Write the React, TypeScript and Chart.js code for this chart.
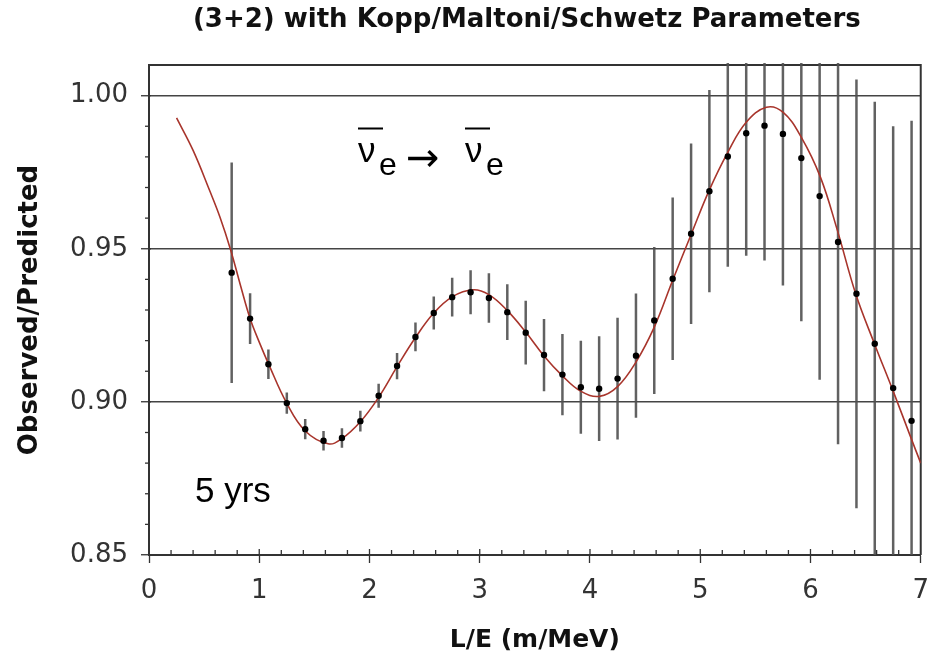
import React, { useEffect, useRef } from 'react';
import { Chart, registerables } from 'chart.js';

Chart.register(...registerables);

// ---- data ----
const pointX = [0.75, 0.917, 1.083, 1.25, 1.417, 1.583, 1.75, 1.917, 2.083, 2.25, 2.417, 2.583, 2.75, 2.917, 3.083, 3.25, 3.417, 3.583, 3.75, 3.917, 4.083, 4.25, 4.417, 4.583, 4.75, 4.917, 5.083, 5.25, 5.417, 5.583, 5.75, 5.917, 6.083, 6.25, 6.417, 6.583, 6.75, 6.917];
const pointY = [0.9422, 0.9272, 0.9123, 0.8996, 0.8911, 0.8873, 0.8882, 0.8937, 0.902, 0.9117, 0.9212, 0.929, 0.9342, 0.9358, 0.9339, 0.9293, 0.9226, 0.9153, 0.9089, 0.9048, 0.9043, 0.9076, 0.9151, 0.9266, 0.9402, 0.9549, 0.9688, 0.9801, 0.9877, 0.9902, 0.9875, 0.9796, 0.9672, 0.9522, 0.9353, 0.919, 0.9045, 0.8938];
const pointErr = [0.036, 0.0083, 0.0048, 0.0035, 0.0033, 0.0032, 0.0032, 0.0034, 0.0039, 0.0043, 0.0047, 0.0054, 0.0063, 0.0072, 0.0081, 0.0091, 0.0104, 0.0118, 0.0133, 0.0152, 0.0171, 0.0199, 0.0203, 0.024, 0.0265, 0.0295, 0.033, 0.036, 0.04, 0.044, 0.0495, 0.0533, 0.06, 0.066, 0.07, 0.079, 0.0855, 0.098];

const curveX = [0.25, 0.4, 0.55, 0.644, 0.74, 0.83, 0.917, 1.0, 1.083, 1.25, 1.417, 1.625, 1.75, 1.917, 2.083, 2.25, 2.417, 2.583, 2.75, 2.94, 3.083, 3.25, 3.417, 3.583, 3.75, 3.915, 4.085, 4.25, 4.417, 4.583, 4.75, 4.92, 5.08, 5.25, 5.417, 5.6, 5.75, 5.917, 6.09, 6.244, 6.41, 6.58, 6.75, 6.914, 7.0];
const curveY = [0.9927, 0.9821, 0.969, 0.9603, 0.9497, 0.938, 0.9272, 0.9195, 0.9125, 0.8995, 0.8905, 0.8863, 0.888, 0.8935, 0.9015, 0.9115, 0.921, 0.929, 0.9343, 0.9366, 0.935, 0.9298, 0.9228, 0.915, 0.9085, 0.9035, 0.9018, 0.905, 0.913, 0.9244, 0.9397, 0.9549, 0.969, 0.9815, 0.9913, 0.9962, 0.9946, 0.9864, 0.9734, 0.956, 0.9353, 0.919, 0.9035, 0.888, 0.88];

const xTickValues = [0, 1, 2, 3, 4, 5, 6, 7];
const yTickValues = [0.85, 0.9, 0.95, 1.0];
const titleText = '(3+2) with Kopp/Maltoni/Schwetz Parameters';
const xTitle = 'L/E (m/MeV)';
const yTitle = 'Observed/Predicted';
const yearsLabel = '5 yrs';
const nuLabel = 'ν';
const flavourLabel = 'e';
const arrowLabel = '→';

const AXIS = '#333';

const decorPlugin = {
  id: 'decor',
  beforeDatasetsDraw(chart: any) {
    const { ctx, chartArea: a, scales } = chart;
    const x = scales.x;
    const y = scales.y;
    ctx.save();
    // frame (top / right)
    ctx.strokeStyle = AXIS;
    ctx.lineWidth = 2;
    ctx.beginPath();
    ctx.moveTo(a.left, a.top);
    ctx.lineTo(a.right, a.top);
    ctx.lineTo(a.right, a.bottom);
    ctx.stroke();
    // minor ticks on y (outward)
    ctx.lineWidth = 1.3;
    for (let i = 86; i <= 100; i++) {
      if (i % 5 === 0) continue;
      const py = y.getPixelForValue(i / 100);
      ctx.beginPath();
      ctx.moveTo(a.left - 4, py);
      ctx.lineTo(a.left, py);
      ctx.stroke();
    }
    // x ticks inward (minor every 0.2, major inward part)
    for (let i = 1; i < 35; i++) {
      const px = x.getPixelForValue(i / 5);
      const len = i % 5 === 0 ? 6 : 5;
      ctx.beginPath();
      ctx.moveTo(px, a.bottom);
      ctx.lineTo(px, a.bottom - len);
      ctx.stroke();
    }
    // y major inward part
    yTickValues.forEach((v) => {
      const py = y.getPixelForValue(v);
      ctx.beginPath();
      ctx.moveTo(a.left, py);
      ctx.lineTo(a.left + 2, py);
      ctx.stroke();
    });
    // error bars
    ctx.beginPath();
    ctx.rect(a.left, a.top - 2, a.right - a.left, a.bottom - a.top + 2);
    ctx.clip();
    ctx.strokeStyle = 'rgba(80,80,80,0.9)';
    ctx.lineWidth = 2.5;
    pointX.forEach((vx, i) => {
      const px = x.getPixelForValue(vx);
      ctx.beginPath();
      ctx.moveTo(px, y.getPixelForValue(pointY[i] - pointErr[i]));
      ctx.lineTo(px, y.getPixelForValue(pointY[i] + pointErr[i]));
      ctx.stroke();
    });
    ctx.restore();
  },
  afterDraw(chart: any) {
    const { ctx, chartArea: a } = chart;
    ctx.save();
    // title
    ctx.fillStyle = '#111';
    ctx.font = 'bold 26px "DejaVu Sans"';
    ctx.textAlign = 'center';
    ctx.textBaseline = 'middle';
    ctx.fillText(titleText, (a.left + a.right) / 2 - 8, 20);
    // 5 yrs
    ctx.fillStyle = '#000';
    ctx.textAlign = 'left';
    ctx.textBaseline = 'alphabetic';
    ctx.font = '35px "Liberation Sans"';
    ctx.fillText(yearsLabel, 195, 502);
    // nu_e -> nu_e
    ctx.font = '35px "Liberation Sans"';
    ctx.fillText(nuLabel, 358, 162);
    ctx.fillText(nuLabel, 465, 162);
    ctx.font = '32px "Liberation Sans"';
    ctx.fillText(flavourLabel, 379, 175);
    ctx.fillText(flavourLabel, 486, 175);
    ctx.font = '40px "DejaVu Sans"';
    ctx.fillText(arrowLabel, 406, 171);
    ctx.strokeStyle = '#000';
    ctx.lineWidth = 2;
    ctx.beginPath();
    ctx.moveTo(358, 128.5);
    ctx.lineTo(383, 128.5);
    ctx.moveTo(465, 128.5);
    ctx.lineTo(490, 128.5);
    ctx.stroke();
    ctx.restore();
  },
};

export default function App() {
  const ref = useRef<HTMLCanvasElement | null>(null);
  useEffect(() => {
    if (!ref.current) return;
    const chart = new Chart(ref.current, {
      type: 'scatter',
      data: {
        datasets: [
          {
            label: 'data',
            data: pointX.map((x, i) => ({ x, y: pointY[i] })),
            pointRadius: 3.2,
            pointBackgroundColor: '#000',
            pointBorderWidth: 0,
            showLine: false,
          } as any,
          {
            label: 'fit',
            data: curveX.map((x, i) => ({ x, y: curveY[i] })),
            showLine: true,
            borderColor: '#a8352c',
            borderWidth: 1.6,
            pointRadius: 0,
            tension: 0.4,
            fill: false,
          } as any,
        ],
      },
      options: {
        animation: false,
        responsive: false,
        events: [],
        layout: { padding: { left: 0, right: 21, top: 65, bottom: 0 } },
        plugins: {
          legend: { display: false },
          tooltip: { enabled: false },
          title: { display: false },
        },
        scales: {
          x: {
            type: 'linear',
            min: 0,
            max: 7,
            afterBuildTicks: (s: any) => {
              s.ticks = xTickValues.map((v) => ({ value: v }));
            },
            afterFit: (s: any) => {
              s.height = 100;
            },
            ticks: {
              font: { family: 'DejaVu Sans', size: 26 },
              color: AXIS,
              padding: 13,
              maxRotation: 0,
              callback: (v: any) => String(v),
            },
            grid: { drawOnChartArea: false, tickLength: 8, tickColor: AXIS, tickWidth: 1.3 },
            border: { color: AXIS, width: 2 },
            title: {
              display: true,
              text: xTitle,
              font: { family: 'DejaVu Sans', size: 25, weight: 'bold' },
              color: '#111',
              padding: { top: 0, bottom: 0 },
            },
          },
          y: {
            type: 'linear',
            min: 0.85,
            max: 1.01,
            afterBuildTicks: (s: any) => {
              s.ticks = yTickValues.map((v) => ({ value: v }));
            },
            afterFit: (s: any) => {
              s.width = 149;
            },
            ticks: {
              font: { family: 'DejaVu Sans', size: 26 },
              color: AXIS,
              padding: 13,
              callback: (v: any) => Number(v).toFixed(2),
            },
            grid: { color: '#444', lineWidth: 1.5, tickLength: 8, tickColor: AXIS, tickWidth: 1.3 },
            border: { color: AXIS, width: 2 },
            title: {
              display: true,
              text: yTitle,
              font: { family: 'DejaVu Sans', size: 26, weight: 'bold' },
              color: '#111',
              padding: { top: 15, bottom: 0 },
            },
          },
        },
      } as any,
      plugins: [decorPlugin],
    });
    return () => chart.destroy();
  }, []);
  return (
    <div style={{ position: 'fixed', left: 0, top: 0, width: 942, height: 655, background: '#fff' }}>
      <canvas ref={ref} width={942} height={655} />
    </div>
  );
}
